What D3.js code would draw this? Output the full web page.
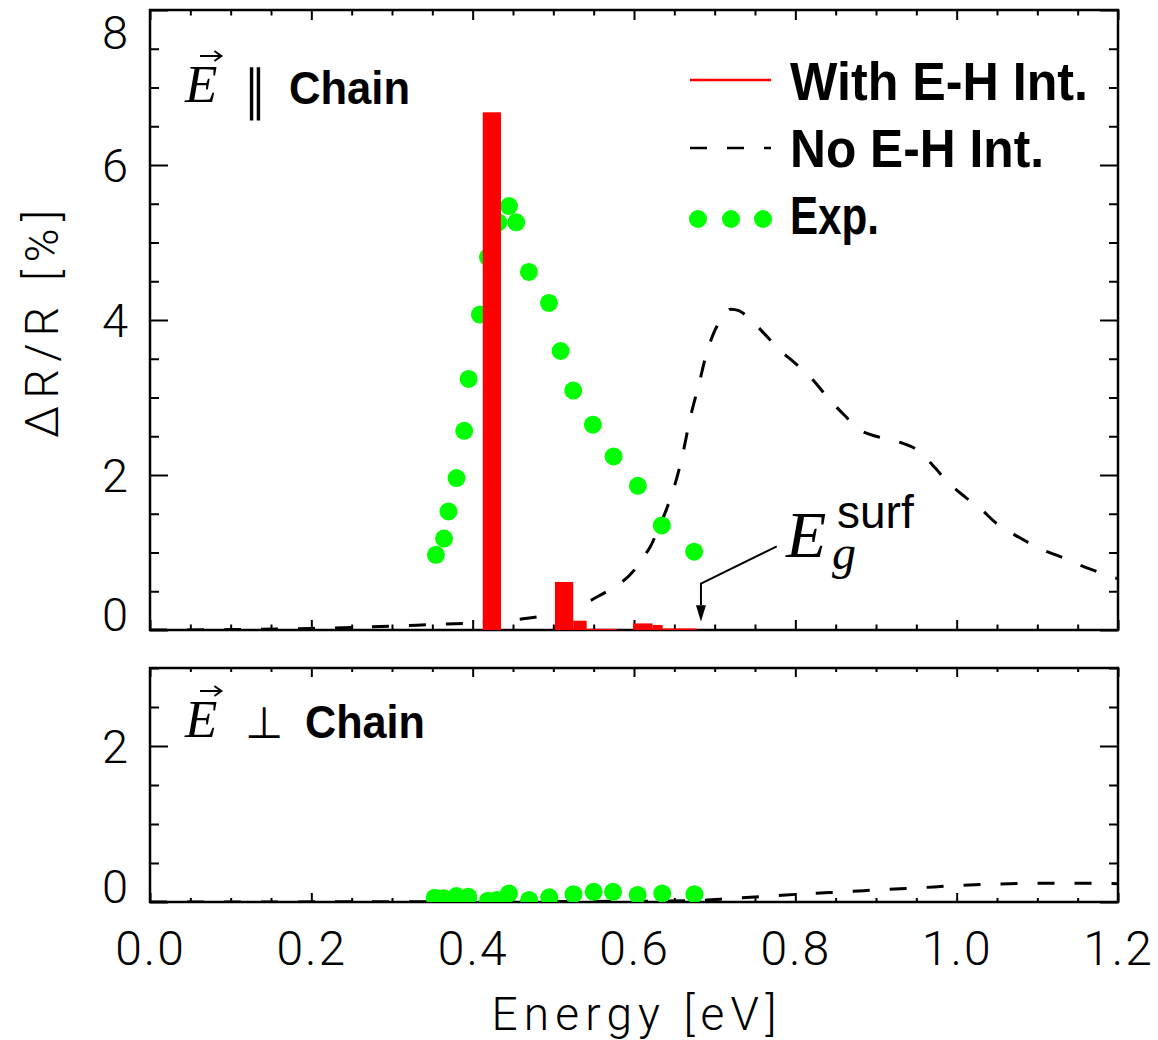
<!DOCTYPE html>
<html>
<head>
<meta charset="utf-8">
<script src="https://cdn.jsdelivr.net/npm/d3@7"></script>
<style>
body { margin: 0; background: #fff; }
.num { font-family: Roboto, "DejaVu Sans", sans-serif; font-weight: 300; }
.bold { font-family: "Liberation Sans", Arial, sans-serif; font-weight: bold; }
.ital { font-family: "Liberation Serif", "DejaVu Serif", serif; font-style: italic; }
</style>
</head>
<body>
<svg id="chart" width="1158" height="1040"></svg>
<script>
// tick labels
var xTickLabels = ["0.0", "0.2", "0.4", "0.6", "0.8", "1.0", "1.2"];
var yTopTickLabels = ["0", "2", "4", "6", "8"];
var yBotTickLabels = ["0", "2"];

// no electron-hole interaction, E || chain (eV, %)
var noEHParE = [0, 0.1, 0.2, 0.3, 0.35, 0.4, 0.45, 0.5, 0.54, 0.56, 0.58, 0.6, 0.61, 0.62, 0.63, 0.64, 0.65, 0.66,
                0.67, 0.68, 0.69, 0.7, 0.71, 0.72, 0.73, 0.74, 0.76, 0.78, 0.8, 0.82, 0.84, 0.86, 0.88, 0.9, 0.93,
                0.95, 0.97, 0.99, 1.01, 1.03, 1.05, 1.07, 1.09, 1.11, 1.13, 1.15, 1.17, 1.2];
var noEHParV = [0, 0.005, 0.02, 0.05, 0.07, 0.09, 0.13, 0.21, 0.35, 0.46, 0.58, 0.77, 0.92, 1.07, 1.3, 1.55, 1.85, 2.25,
                2.75, 3.15, 3.57, 3.86, 4.03, 4.14, 4.12, 4.05, 3.84, 3.62, 3.44, 3.25, 3.0, 2.78, 2.58, 2.5, 2.42,
                2.33, 2.13, 1.9, 1.72, 1.56, 1.37, 1.24, 1.12, 1.02, 0.94, 0.85, 0.77, 0.66];

// no electron-hole interaction, E perp chain
var noEHPerpE = [0, 0.3, 0.6, 0.68, 0.72, 0.77, 0.82, 0.86, 0.91, 0.95, 1.0, 1.05, 1.1, 1.15, 1.2];
var noEHPerpV = [0, 0.003, 0.01, 0.02, 0.045, 0.077, 0.11, 0.13, 0.16, 0.18, 0.21, 0.23, 0.24, 0.24, 0.235];

// with electron-hole interaction (bars), E || chain
var barStart = [0.4125, 0.502, 0.5247, 0.5413, 0.599, 0.623, 0.6355];
var barEnd = [0.4351, 0.5247, 0.5413, 0.5785, 0.623, 0.6355, 0.6777];
var barValue = [6.68, 0.62, 0.12, 0.015, 0.085, 0.065, 0.02];

// experiment
var expParE = [0.3545, 0.3645, 0.370, 0.380, 0.3895, 0.395, 0.409, 0.419, 0.4318, 0.445, 0.454, 0.4697, 0.4946,
               0.509, 0.5247, 0.549, 0.5747, 0.6048, 0.6345, 0.6746];
var expParV = [0.97, 1.18, 1.53, 1.96, 2.57, 3.24, 4.07, 4.81, 5.26, 5.47, 5.26, 4.62, 4.22,
               3.60, 3.09, 2.65, 2.24, 1.86, 1.35, 1.01];
var expPerpE = [0.353, 0.364, 0.380, 0.3945, 0.419, 0.43, 0.445, 0.47, 0.495, 0.525, 0.55, 0.574, 0.6045, 0.635, 0.675];
var expPerpV = [0.055, 0.047, 0.077, 0.068, 0.017, 0.026, 0.11, 0.026, 0.06, 0.10, 0.13, 0.13, 0.09, 0.11, 0.10];

var egSurf = 0.683;

var svg = d3.select("#chart");
var x = d3.scaleLinear().domain([0, 1.2]).range([150, 1118]);
var yTop = d3.scaleLinear().domain([0, 8]).range([630, 10]);
var yBot = d3.scaleLinear().domain([0, 3]).range([902, 668]);

function r2(v) { return Math.round(v * 100) / 100; }
var xMajor = xTickLabels.map(Number);
var xMinor = d3.range(0, 24).map(function(i) { return r2(i * 0.05); }).filter(function(v) { return xMajor.indexOf(v) < 0; });

function addTicks(axisFn, scale, vals, len, tx, ty) {
    var a = axisFn(scale).tickValues(vals).tickSize(-len).tickSizeOuter(0).tickFormat("");
    var g = svg.append("g").attr("transform", "translate(" + tx + "," + ty + ")").call(a);
    g.select(".domain").remove();
    g.selectAll("line").attr("stroke", "#000").attr("stroke-width", 2);
}

function panel(y, yLabels, xMajLen, xMinLen, id) {
    var y0 = y.range()[0], y1 = y.range()[1];
    var yMajor = yLabels.map(Number);
    var yMinor = d3.range(0, y.domain()[1] * 2 + 1).map(function(i) { return i * 0.5; })
        .filter(function(v) { return yMajor.indexOf(v) < 0; });

    svg.append("clipPath").attr("id", id).append("rect")
        .attr("x", 150).attr("y", y1).attr("width", 968).attr("height", y0 - y1);

    addTicks(d3.axisBottom, x, xMajor, xMajLen, 0, y0);
    addTicks(d3.axisBottom, x, xMinor, xMinLen, 0, y0);
    addTicks(d3.axisTop, x, xMajor, xMajLen, 0, y1);
    addTicks(d3.axisTop, x, xMinor, xMinLen, 0, y1);
    addTicks(d3.axisLeft, y, yMajor, 18, 150, 0);
    addTicks(d3.axisLeft, y, yMinor, 9, 150, 0);
    addTicks(d3.axisRight, y, yMajor, 18, 1118, 0);
    addTicks(d3.axisRight, y, yMinor, 9, 1118, 0);

    // y tick labels, end labels kept inside the axis range
    var lab = svg.append("g").attr("transform", "translate(150,0)")
        .call(d3.axisLeft(y).tickValues(yMajor).tickSize(0).tickPadding(22)
            .tickFormat(function(d, i) { return yLabels[i]; }));
    lab.select(".domain").remove();
    lab.selectAll("text")
        .attr("class", "num").attr("font-size", 47).attr("fill", "#000")
        .attr("dy", function(d, i) {
            if (i === 0) return 0;
            if (d === y.domain()[1]) return 38;
            return 16;
        });
}

panel(yTop, yTopTickLabels, 10, 5.5, "clipTop");
panel(yBot, yBotTickLabels, 9, 4, "clipBot");

// frames
[yTop, yBot].forEach(function(y) {
    svg.append("rect").attr("x", 150).attr("y", y.range()[1])
        .attr("width", 968).attr("height", y.range()[0] - y.range()[1])
        .attr("fill", "none").attr("stroke", "#000").attr("stroke-width", 2.5);
});

// x tick labels
var xl = svg.append("g").attr("transform", "translate(0,902)")
    .call(d3.axisBottom(x).tickValues(xMajor).tickSize(0)
        .tickFormat(function(d, i) { return xTickLabels[i]; }));
xl.select(".domain").remove();
xl.selectAll("text").attr("class", "num").attr("font-size", 48).attr("fill", "#000")
    .attr("y", 63).attr("dy", null).attr("letter-spacing", 2);

// dashed curves
function dashed(es, vs, y, clip) {
    var line = d3.line().x(function(d) { return x(d[0]); }).y(function(d) { return y(d[1]); })
        .curve(d3.curveMonotoneX);
    svg.append("path").datum(d3.zip(es, vs)).attr("d", line)
        .attr("clip-path", "url(#" + clip + ")")
        .attr("fill", "none").attr("stroke", "#000").attr("stroke-width", 3)
        .attr("stroke-dasharray", "17,20");
}
dashed(noEHParE, noEHParV, yTop, "clipTop");
dashed(noEHPerpE, noEHPerpV, yBot, "clipBot");

// experimental dots
function dots(es, vs, y, clip) {
    svg.append("g").attr("clip-path", "url(#" + clip + ")")
        .selectAll("circle").data(d3.zip(es, vs)).enter().append("circle")
        .attr("cx", function(d) { return x(d[0]); })
        .attr("cy", function(d) { return y(d[1]); })
        .attr("r", 9).attr("fill", "#00ff00");
}
dots(expParE, expParV, yTop, "clipTop");
dots(expPerpE, expPerpV, yBot, "clipBot");

// bars with E-H interaction
svg.append("g").selectAll("rect").data(barValue).enter().append("rect")
    .attr("x", function(d, i) { return x(barStart[i]); })
    .attr("width", function(d, i) { return x(barEnd[i]) - x(barStart[i]); })
    .attr("y", function(d) { return yTop(d); })
    .attr("height", function(d) { return yTop(0) - yTop(d); })
    .attr("fill", "#ff0000");

// panel labels
function vecE(px, py) {
    var t = svg.append("text").attr("class", "ital").attr("x", px).attr("y", py)
        .attr("font-size", 53).text("E");
    var bb = t.node().getBBox();
    var ax0 = bb.x + 16, ax1 = bb.x + bb.width + 4, ay = py - 46;
    svg.append("path").attr("d", "M" + ax0 + "," + ay + "H" + ax1)
        .attr("stroke", "#000").attr("stroke-width", 2);
    svg.append("path").attr("d", "M" + (ax1 - 7) + "," + (ay - 5) + "L" + ax1 + "," + ay + "L" + (ax1 - 7) + "," + (ay + 5))
        .attr("fill", "none").attr("stroke", "#000").attr("stroke-width", 2);
}
vecE(185, 102);
svg.append("text").attr("x", 244).attr("y", 109).attr("font-family", "DejaVu Sans").attr("font-weight", 200)
    .attr("font-size", 54).attr("textLength", 22).attr("lengthAdjust", "spacingAndGlyphs").text("\u2225");
svg.append("text").attr("class", "bold").attr("x", 289).attr("y", 104).attr("font-size", 47)
    .attr("textLength", 121).attr("lengthAdjust", "spacingAndGlyphs").text("Chain");

vecE(185, 737);
svg.append("text").attr("x", 245).attr("y", 738).attr("font-family", "DejaVu Sans").attr("font-weight", 200)
    .attr("font-size", 44).text("\u22A5");
svg.append("text").attr("class", "bold").attr("x", 305).attr("y", 738).attr("font-size", 47)
    .attr("textLength", 120).attr("lengthAdjust", "spacingAndGlyphs").text("Chain");

// legend
svg.append("line").attr("x1", 690).attr("x2", 771).attr("y1", 80).attr("y2", 80)
    .attr("stroke", "#ff0000").attr("stroke-width", 2.5);
svg.append("line").attr("x1", 690).attr("x2", 771).attr("y1", 148).attr("y2", 148)
    .attr("stroke", "#000").attr("stroke-width", 2.5).attr("stroke-dasharray", "17,20");
[698, 731, 763].forEach(function(cx) {
    svg.append("circle").attr("cx", cx).attr("cy", 219).attr("r", 9).attr("fill", "#00ff00");
});
var legendText = ["With E-H Int.", "No E-H Int.", "Exp."];
var legendWidth = [298, 254, 89];
legendText.forEach(function(s, i) {
    svg.append("text").attr("class", "bold").attr("x", 790).attr("y", 100 + i * 67)
        .attr("font-size", 53).attr("textLength", legendWidth[i]).attr("lengthAdjust", "spacingAndGlyphs").text(s);
});

// E_g^surf annotation
var ax = x(egSurf);
svg.append("path")
    .attr("d", "M" + x(0.777) + "," + yTop(1.08) + "L" + ax + "," + yTop(0.6) + "V" + yTop(0.32))
    .attr("fill", "none").attr("stroke", "#000").attr("stroke-width", 2);
svg.append("path")
    .attr("d", "M" + (ax - 5) + "," + yTop(0.32) + "L" + (ax + 5) + "," + yTop(0.32) + "L" + ax + "," + yTop(0.11) + "Z")
    .attr("fill", "#000");
var eg = svg.append("text").attr("x", 786).attr("y", 557);
eg.append("tspan").attr("class", "ital").attr("font-size", 66).text("E");
eg.append("tspan").attr("class", "ital").attr("font-size", 48).attr("x", 832).attr("dy", 12).text("g");
eg.append("tspan").attr("font-family", "Liberation Sans, sans-serif").attr("font-size", 46)
    .attr("x", 837).attr("dy", -41).text("surf");

// axis titles
svg.append("text").attr("class", "num").attr("font-size", 46)
    .attr("transform", "translate(58,324) rotate(-90)").attr("text-anchor", "middle")
    .attr("textLength", 228).attr("lengthAdjust", "spacing").text("\u0394R/R [%]");
svg.append("text").attr("class", "num").attr("font-size", 46)
    .attr("x", 634).attr("y", 1030).attr("text-anchor", "middle")
    .attr("textLength", 285).attr("lengthAdjust", "spacing").text("Energy [eV]");
</script>
</body>
</html>
